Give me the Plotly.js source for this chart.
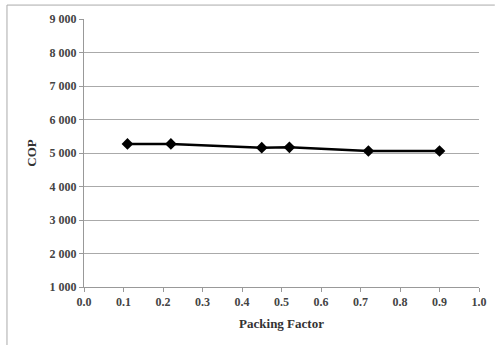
<!DOCTYPE html>
<html>
<head>
<meta charset="utf-8">
<script src="https://cdn.plot.ly/plotly-3.0.1.min.js"></script>
<style>html,body{margin:0;padding:0;background:#fff;}#chart{width:495px;height:345px;}</style>
</head>
<body>
<div id="chart"></div>
<script>
const packingFactor = [0.11, 0.22, 0.45, 0.52, 0.72, 0.90];
const cop = [5270, 5270, 5160, 5170, 5060, 5060];
const yTicks = [1000, 2000, 3000, 4000, 5000, 6000, 7000, 8000, 9000];
const xTicks = [0, 0.1, 0.2, 0.3, 0.4, 0.5, 0.6, 0.7, 0.8, 0.9, 1.0];

const font = {family: 'Liberation Serif, DejaVu Serif, serif', size: 12, color: '#333'};

Plotly.newPlot('chart', [{
  x: packingFactor, y: cop, type: 'scatter', mode: 'lines+markers',
  line: {color: '#000', width: 2.5},
  marker: {symbol: 'diamond', size: 9, color: '#000'}
}], {
  width: 495, height: 345,
  margin: {l: 84, r: 16, t: 19, b: 58},
  paper_bgcolor: '#fff', plot_bgcolor: '#fff',
  separators: '. ',
  showlegend: false,
  font: font,
  xaxis: {
    range: [0, 1], tickvals: xTicks, tickformat: '.1f',
    showgrid: false, zeroline: false,
    showline: true, linecolor: '#999', linewidth: 1,
    ticks: 'outside', ticklen: 4, tickcolor: '#999',
    tickfont: {family: font.family, size: 12, color: '#444', weight: 'bold'},
    title: {text: '<b>Packing Factor</b>', font: {family: font.family, size: 13, color: '#333'}, standoff: 10}
  },
  yaxis: {
    range: [1000, 9000], tickvals: yTicks, separatethousands: true, tickformat: ',d',
    showgrid: true, gridcolor: '#aaa', gridwidth: 1, zeroline: false,
    showline: true, linecolor: '#999', linewidth: 1,
    ticks: 'outside', ticklen: 4, tickcolor: '#999',
    tickfont: {family: font.family, size: 12, color: '#444', weight: 'bold'},
    title: {text: '<b>COP</b>', font: {family: font.family, size: 13, color: '#333'}, standoff: 10}
  },
  shapes: [
    {type: 'line', xref: 'paper', yref: 'paper', x0: -0.195, x1: 1.04, y0: 1.052, y1: 1.052, line: {color: '#aaa', width: 1}},
    {type: 'line', xref: 'paper', yref: 'paper', x0: -0.195, x1: -0.195, y0: 1.052, y1: -0.22, line: {color: '#aaa', width: 1}}
  ]
}, {displayModeBar: false, staticPlot: true});
</script>
</body>
</html>
